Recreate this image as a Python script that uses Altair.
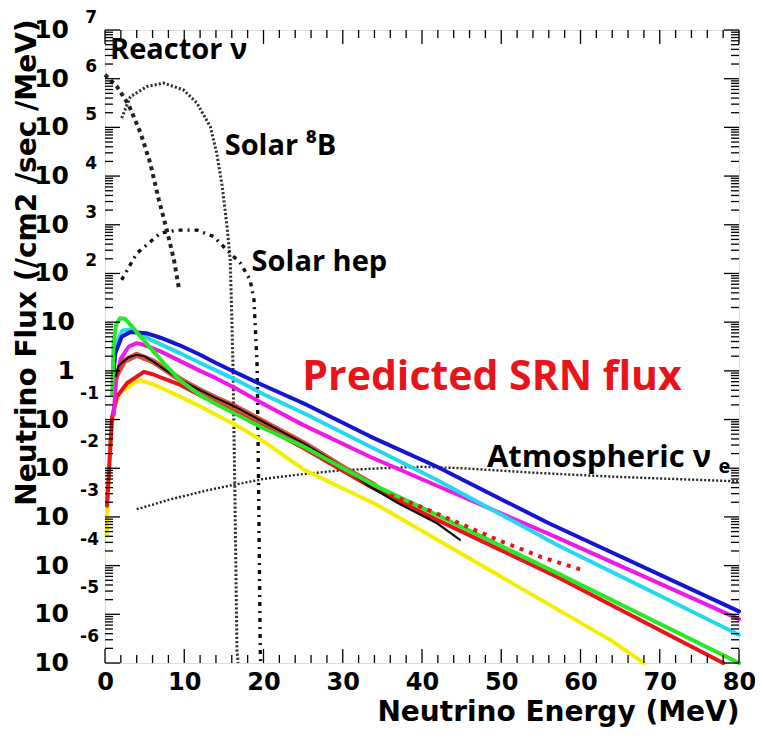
import altair as alt
import pandas as pd

# ---------------- data (energy in MeV, flux given as log10 of /cm2/sec/MeV) ----------------
reactor_x = [0.0, 1.5, 3.0, 4.5, 5.7, 6.8, 7.8, 8.7, 9.3]
reactor_lg = [6.08, 5.84, 5.46, 4.88, 4.27, 3.51, 2.89, 2.28, 1.72]

b8_x = [2.1, 3.2, 5.3, 7.4, 9.9, 11.6, 13.3, 14.1, 14.8, 15.4, 15.8, 16.0, 16.15, 16.4, 16.65, 16.8]
b8_lg = [5.19, 5.63, 5.84, 5.91, 5.77, 5.50, 5.01, 4.47, 3.78, 2.96, 2.28, 1.11, 0.08, -2.65, -5.73, -6.0]

hep_x = [2.1, 4.0, 7.0, 9.1, 11.6, 13.7, 15.4, 17.1, 18.3, 18.8, 19.2, 19.4, 19.6, 19.65]
hep_lg = [1.87, 2.41, 2.83, 2.89, 2.89, 2.76, 2.48, 2.21, 1.87, 1.46, 0.08, -2.65, -5.87, -6.0]

atm_x = [4, 6, 8, 10, 13, 16, 20, 25, 30, 35, 40, 45, 50, 55, 60, 65, 70, 75, 80]
atm_lg = [-2.84, -2.75, -2.65, -2.57, -2.45, -2.35, -2.22, -2.12, -2.04, -2.0, -1.97, -2.0,
          -2.05, -2.1, -2.14, -2.18, -2.21, -2.24, -2.27]

blue_x = [1.1, 1.3, 2.1, 3.2, 5.3, 7.0, 9.5, 12.0, 14.0, 16.7, 20.0, 25.1, 33.5, 41.9, 56.0, 80.0]
blue_lg = [0.0, 0.36, 0.70, 0.80, 0.77, 0.68, 0.52, 0.33, 0.16, -0.05, -0.3, -0.67, -1.35, -1.97, -3.13, -4.94]

cyan_x = [1.1, 1.5, 2.2, 3.2, 4.5, 6.0, 9.5, 12.0, 14.0, 16.7, 20.0, 25.1, 33.5, 41.9, 57.0, 80.0]
cyan_lg = [0.2, 0.6, 0.83, 0.85, 0.75, 0.62, 0.36, 0.16, 0.01, -0.2, -0.48, -0.87, -1.56, -2.24, -3.57, -5.42]

magenta_x = [1.1, 1.4, 2.0, 3.0, 4.0, 5.0, 7.0, 9.5, 12.0, 14.0, 16.7, 20.0, 25.1, 33.5, 41.9, 57.0, 80.0]
magenta_lg = [-0.9, -0.2, 0.25, 0.5, 0.57, 0.53, 0.40, 0.2, 0.0, -0.15, -0.38, -0.68, -1.12, -1.77,
              -2.36, -3.42, -5.1]

black_x = [1.4, 1.7, 2.4, 3.0, 4.0, 5.0, 6.1, 7.5, 9.5, 12.0, 14.0, 16.7, 20.0, 25.1, 30.0, 33.5, 37.0,
           41.9, 44.8]
black_lg = [-0.1, 0.1, 0.2, 0.28, 0.33, 0.3, 0.19, 0.03, -0.18, -0.4, -0.56, -0.76, -1.05, -1.49,
            -1.98, -2.38, -2.72, -3.13, -3.47]

redband_x = [1.4, 2.4, 4.0, 6.1, 9.5, 12.0, 14.0, 16.7, 20.0, 25.1, 30.0, 34.0]
redband_lg = [-0.1, 0.2, 0.33, 0.19, -0.18, -0.4, -0.56, -0.76, -1.05, -1.49, -1.98, -2.35]

reddot_x = [36, 40, 45, 50, 55, 60]
reddot_lg = [-2.55, -2.8, -3.15, -3.5, -3.82, -4.08]

green_x = [0.9, 1.1, 1.4, 1.9, 2.5, 3.2, 4.5, 6.0, 7.4, 9.5, 12.0, 14.0, 16.7, 20.0, 25.1, 33.5, 41.9,
           57.0, 80.0]
green_lg = [-0.5, 0.6, 0.95, 1.08, 1.07, 0.95, 0.7, 0.42, 0.16, -0.2, -0.5, -0.68, -0.9, -1.18, -1.56,
            -2.31, -2.96, -4.15, -6.0]

red_x = [0.25, 0.9, 1.5, 2.8, 4.9, 6.0, 9.5, 12.0, 14.0, 16.7, 20.0, 25.1, 33.5, 41.9, 57.0, 78.0]
red_lg = [-2.77, -0.95, -0.53, -0.25, -0.02, -0.07, -0.29, -0.5, -0.66, -0.87, -1.15, -1.59, -2.38,
          -3.06, -4.23, -6.0]

yellow_x = [0.2, 0.6, 1.1, 1.9, 3.6, 4.4, 6.0, 9.5, 12.0, 14.0, 16.7, 20.0, 25.1, 34.3, 63.8, 68.0]
yellow_lg = [-3.4, -1.5, -0.8, -0.45, -0.25, -0.19, -0.27, -0.53, -0.73, -0.9, -1.13, -1.45, -2.03,
             -2.75, -5.53, -6.0]

# axis tick values
y_tick_vals = [1e7, 1e6, 1e5, 1e4, 1e3, 1e2, 1e1, 1e0, 1e-1, 1e-2, 1e-3, 1e-4, 1e-5, 1e-6]
y_bases = ["10", "10", "10", "10", "10", "10", "10", "1", "10", "10", "10", "10", "10", "10"]
y_exps = ["7", "6", "5", "4", "3", "2", "", "", "-1", "-2", "-3", "-4", "-5", "-6"]
x_tick_vals = [0, 10, 20, 30, 40, 50, 60, 70, 80]
x_minor_vals = [v for v in range(0, 81, 2) if v % 10 != 0]
y_minor_vals = [m * 10.0 ** k for k in range(-6, 7) for m in range(2, 10)]

# annotations (energy, log10 flux)
ann_reactor = ("Reactor ν", 0.63, 6.59)
ann_b8 = ("Solar ⁸B", 15.1, 4.62)
ann_hep = ("Solar hep", 18.5, 2.24)
ann_srn = ("Predicted SRN flux", 24.9, -0.15)
ann_atm = ("Atmospheric ν", 48.2, -1.79)
ann_atm_sub = ("e", 77.4, -1.97)

# ---------------- build ----------------
W, H = 634, 633
FONT = "DejaVu Sans"
TFONT = "Open Sans"

rows = []
def add(name, xs, lgs):
    for a, b in zip(xs, lgs):
        rows.append({"series": name, "x": a, "flux": 10 ** b})

add("reactor", reactor_x, reactor_lg)
add("b8", b8_x, b8_lg)
add("hep", hep_x, hep_lg)
add("atm", atm_x, atm_lg)
add("blue", blue_x, blue_lg)
add("cyan", cyan_x, cyan_lg)
add("magenta", magenta_x, magenta_lg)
add("black", black_x, black_lg)
add("redband", redband_x, redband_lg)
add("reddot", reddot_x, reddot_lg)
add("green", green_x, green_lg)
add("red", red_x, red_lg)
add("yellow", yellow_x, yellow_lg)
curves = pd.DataFrame(rows)

xscale = alt.Scale(domain=[0, 80], nice=False, zero=False)
yscale = alt.Scale(type="log", domain=[1e-6, 1e7], nice=False)

xaxis = alt.Axis(values=x_tick_vals, labelFont=FONT, labelFontSize=24, labelFontWeight="bold",
                 labelColor="black", labelPadding=7, labelFlush=False, labelOverlap=False,
                 ticks=False, domain=False, grid=False,
                 title="Neutrino Energy (MeV)", titleFont=FONT, titleFontSize=28,
                 titleFontWeight="bold", titleColor="black", titleAnchor="end",
                 titleAlign="right", titleX=W, titleY=49, titleBaseline="middle")
yaxis = alt.Axis(labels=False, ticks=False, domain=False, grid=False,
                 title="Neutrino Flux (/cm2 /sec /MeV)", titleFont=FONT, titleFontSize=28,
                 titleFontWeight="bold", titleColor="black", titleAngle=270,
                 titleX=-78, titleY=232, titleAlign="center", titleBaseline="middle")

X = alt.X("x:Q", scale=xscale, axis=xaxis)
Y = alt.Y("flux:Q", scale=yscale, axis=yaxis)

base = alt.Chart(curves)

def line(name, color, width, dash=None, opacity=1.0):
    kw = dict(color=color, strokeWidth=width, opacity=opacity, strokeJoin="round")
    if dash:
        kw["strokeDash"] = dash
        kw["strokeCap"] = "butt"
    else:
        kw["strokeCap"] = "round"
    return base.transform_filter(alt.datum.series == name).mark_line(**kw).encode(x=X, y=Y)

layers = [
    line("atm", "#222222", 2.4, [2, 2]),
    line("b8", "#333333", 3, [2.2, 2]),
    line("hep", "#111111", 3.4, [4, 5, 2, 5]),
    line("reactor", "#222222", 4, [4, 4]),
    line("yellow", "#f4ee00", 4),
    line("red", "#e8141a", 4),
    line("magenta", "#f018e8", 4),
    line("cyan", "#25d8f0", 4),
    line("blue", "#1414d2", 4),
    line("redband", "#d8301c", 6, None, 0.85),
    line("black", "#111111", 2.2),
    line("green", "#28e628", 4),
    line("reddot", "#e8141a", 4, [4, 6]),
]

# inward ticks
ymaj = pd.DataFrame({"flux": y_tick_vals})
ymin = pd.DataFrame({"flux": y_minor_vals})
xmaj = pd.DataFrame({"x": x_tick_vals})
xmin = pd.DataFrame({"x": x_minor_vals})
tick_style = dict(color="black", strokeWidth=1.3)
YT = alt.Y("flux:Q", scale=yscale, axis=yaxis)
XT = alt.X("x:Q", scale=xscale, axis=xaxis)
layers += [
    alt.Chart(ymaj).mark_rule(**tick_style).encode(y=YT, x=alt.value(0), x2=alt.value(15)),
    alt.Chart(ymaj).mark_rule(**tick_style).encode(y=YT, x=alt.value(W - 15), x2=alt.value(W)),
    alt.Chart(ymin).mark_rule(**tick_style).encode(y=YT, x=alt.value(0), x2=alt.value(8)),
    alt.Chart(ymin).mark_rule(**tick_style).encode(y=YT, x=alt.value(W - 8), x2=alt.value(W)),
    alt.Chart(xmaj).mark_rule(**tick_style).encode(x=XT, y=alt.value(H), y2=alt.value(H - 14)),
    alt.Chart(xmaj).mark_rule(**tick_style).encode(x=XT, y=alt.value(0), y2=alt.value(14)),
    alt.Chart(xmin).mark_rule(**tick_style).encode(x=XT, y=alt.value(H), y2=alt.value(H - 8)),
    alt.Chart(xmin).mark_rule(**tick_style).encode(x=XT, y=alt.value(0), y2=alt.value(8)),
]

# y tick labels (10 with superscript exponent)
ylab = pd.DataFrame({"flux": y_tick_vals, "base": y_bases, "exp": y_exps})
lab_style = dict(font=FONT, fontWeight="bold", color="black", align="right", baseline="middle")
layers += [
    alt.Chart(ylab).transform_filter(alt.datum.exp != "").mark_text(fontSize=25, **lab_style)
    .encode(y=YT, x=alt.value(-36), text="base:N"),
    alt.Chart(ylab).transform_filter(alt.datum.exp == "").mark_text(fontSize=25, **lab_style)
    .encode(y=YT, x=alt.value(-30), text="base:N"),
    alt.Chart(ylab).transform_filter((alt.datum.exp != "") & (alt.datum.flux > 1))
    .mark_text(fontSize=17, dy=-12, **lab_style).encode(y=YT, x=alt.value(-8), text="exp:N"),
    alt.Chart(ylab).transform_filter((alt.datum.exp != "") & (alt.datum.flux < 1))
    .mark_text(fontSize=17, dy=-26, **lab_style).encode(y=YT, x=alt.value(-6), text="exp:N"),
]

# annotations
def ann(item, size, color="black"):
    t, ax, ay = item
    df = pd.DataFrame({"x": [ax], "flux": [10 ** ay], "t": [t]})
    return alt.Chart(df).mark_text(font=TFONT, fontWeight="bold", fontSize=size, color=color,
                                   align="left", baseline="middle").encode(x=X, y=Y, text="t:N")

layers += [
    ann(ann_reactor, 29),
    ann(ann_b8, 29),
    ann(ann_hep, 29),
    ann(ann_srn, 41, "#e8141c"),
    ann(ann_atm, 31),
    ann(ann_atm_sub, 20),
]

chart = alt.layer(*layers).properties(
    width=W, height=H,
    autosize=alt.AutoSizeParams(type="none"),
    padding={"left": 97, "top": 22, "right": 16, "bottom": 67},
).configure_view(stroke="black", strokeWidth=2.5).configure(background="white")

chart.save("out.html", embed_options={"renderer": "svg", "actions": False})
